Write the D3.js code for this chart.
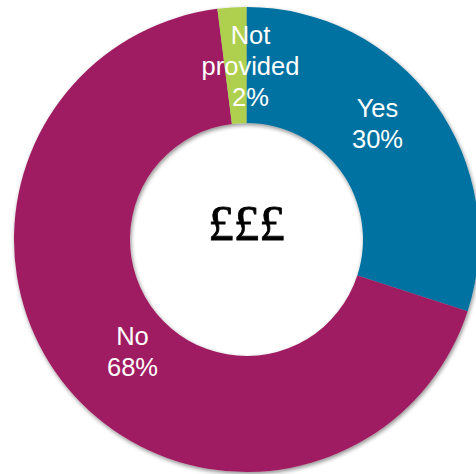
<!DOCTYPE html>
<html>
<head>
<meta charset="utf-8">
<script src="https://cdn.jsdelivr.net/npm/d3@7/dist/d3.min.js"></script>
<style>
  html, body { margin: 0; padding: 0; background: #fff; }
  svg { display: block; }
</style>
</head>
<body>
<div id="chart"></div>
<script>
// Survey answers, in drawing order (clockwise from 12 o'clock)
const categories = ["Yes", "No", "Not provided"];
const values = [30, 68, 2];
const colors = ["#0072A1", "#A01F62", "#AFCF50"];
// Label lines per slice
const labelLines = [["Yes", "30%"], ["No", "68%"], ["Not", "provided", "2%"]];
const centerText = "£££";

const width = 476, height = 474;
const cx = 246.5, cy = 239.5;
const outerR = 232.5, innerR = 116.5;

const svg = d3.select("#chart").append("svg")
  .attr("width", width).attr("height", height);

const defs = svg.append("defs");
const f = defs.append("filter").attr("id", "soft")
  .attr("x", "-10%").attr("y", "-10%").attr("width", "120%").attr("height", "120%");
f.append("feGaussianBlur").attr("in", "SourceAlpha").attr("stdDeviation", 2).attr("result", "b");
f.append("feOffset").attr("in", "b").attr("dx", 1).attr("dy", 2).attr("result", "o");
f.append("feComponentTransfer").attr("in", "o").attr("result", "s")
  .append("feFuncA").attr("type", "linear").attr("slope", 0.45);
const m = f.append("feMerge");
m.append("feMergeNode").attr("in", "s");
m.append("feMergeNode").attr("in", "SourceGraphic");

const data = categories.map((c, i) => ({ name: c, value: values[i], color: colors[i], lines: labelLines[i] }));

const pie = d3.pie().value(d => d.value).sort(null).startAngle(0).endAngle(2 * Math.PI);
const arcs = pie(data);
const arc = d3.arc().innerRadius(innerR).outerRadius(outerR);

const g = svg.append("g").attr("transform", `translate(${cx},${cy})`);

g.append("g").attr("filter", "url(#soft)")
  .selectAll("path").data(arcs).join("path")
  .attr("d", arc)
  .attr("fill", d => d.data.color);

// Label anchor points (centre of each text block), relative to the donut centre
const labelPos = {
  "Yes": [131, -116.5],
  "No": [-114, 112],
  "Not provided": [4, -173.5]
};
const lineH = 31;
const fontSize = 25.5;

const labels = g.append("g").selectAll("text").data(arcs).join("text")
  .attr("fill", "#fff")
  .attr("font-family", "'Liberation Sans', Arial, sans-serif")
  .attr("font-size", fontSize)
  .attr("text-anchor", "middle");

labels.each(function(d) {
  const [x, y] = labelPos[d.data.name];
  const n = d.data.lines.length;
  const t = d3.select(this);
  d.data.lines.forEach((ln, i) => {
    t.append("tspan")
      .attr("x", x)
      .attr("y", y + (i - (n - 1) / 2) * lineH + fontSize * 0.36)
      .text(ln);
  });
});

g.append("text")
  .attr("x", 0).attr("y", 0)
  .attr("text-anchor", "middle")
  .attr("font-family", "'Liberation Serif', 'Times New Roman', serif")
  .attr("font-size", 51)
  .attr("fill", "#000")
  .attr("stroke", "#000")
  .attr("stroke-width", 0.8)
  .text(centerText);
</script>
</body>
</html>
